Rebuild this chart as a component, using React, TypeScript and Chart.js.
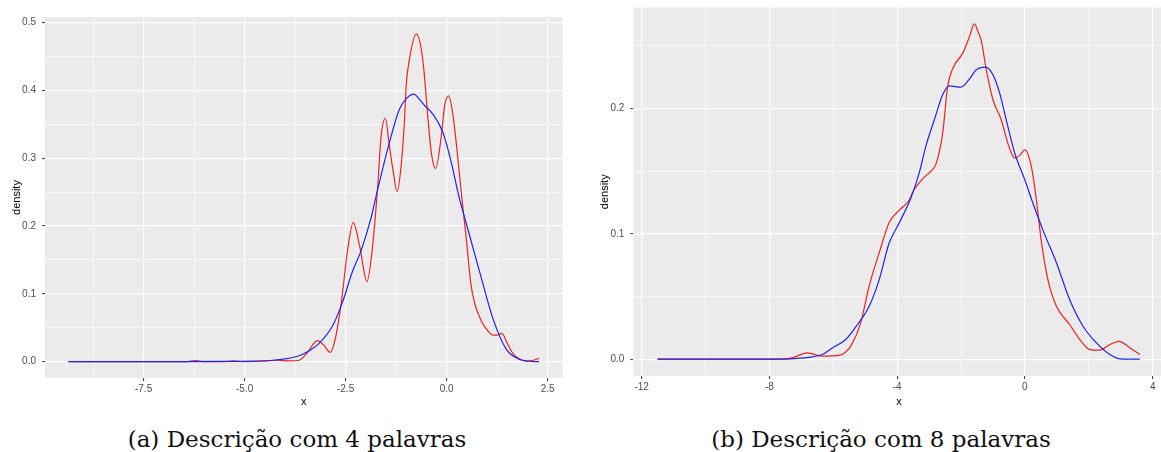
import React, { useEffect, useRef } from "react";
import { Chart, registerables } from "chart.js";
Chart.register(...registerables);

// ---------- Panel (a): Descrição com 4 palavras ----------
const aRedX = [-9.36, -7.0, -6.45, -6.22, -6.0, -5.5, -5.27, -5.05, -4.6, -4.2, -3.9, -3.65, -3.45, -3.2, -3.05, -2.88, -2.75, -2.6, -2.45, -2.31, -2.15, -1.97, -1.85, -1.71, -1.62, -1.515, -1.416, -1.33, -1.225, -1.125, -1.04, -1.0, -0.92, -0.75, -0.59, -0.46, -0.38, -0.273, -0.13, -0.05, 0.05, 0.16, 0.28, 0.38, 0.49, 0.6, 0.7, 0.86, 1.0, 1.15, 1.25, 1.37, 1.5, 1.65, 1.8, 1.98, 2.15, 2.29];
const aRedY = [0, 0, 0, 0.0015, 0, 0, 0.001, 0, 0.0005, 0.002, 0.001, 0.002, 0.013, 0.031, 0.025, 0.0135, 0.035, 0.09, 0.165, 0.205, 0.17, 0.118, 0.16, 0.254, 0.333, 0.359, 0.318, 0.284, 0.251, 0.289, 0.358, 0.407, 0.446, 0.483, 0.446, 0.358, 0.309, 0.285, 0.333, 0.377, 0.392, 0.363, 0.299, 0.24, 0.18, 0.115, 0.085, 0.06, 0.047, 0.039, 0.039, 0.0415, 0.027, 0.011, 0.004, 0.001, 0.002, 0.005];
const aBlueX = [-9.36, -6.5, -5.5, -4.8, -4.3, -4.0, -3.65, -3.4, -3.155, -2.82, -2.58, -2.33, -2.12, -1.87, -1.706, -1.416, -1.17, -0.98, -0.81, -0.66, -0.546, -0.34, -0.09, 0.116, 0.3, 0.49, 0.82, 1.15, 1.48, 1.81, 2.05, 2.29];
const aBlueY = [0, 0, 0.0002, 0.0008, 0.002, 0.004, 0.0086, 0.016, 0.027, 0.053, 0.087, 0.133, 0.163, 0.212, 0.254, 0.323, 0.372, 0.389, 0.3945, 0.386, 0.378, 0.365, 0.338, 0.294, 0.245, 0.203, 0.132, 0.063, 0.018, 0.003, 0.0005, 0];
const aXMajor = [-7.5, -5.0, -2.5, 0.0, 2.5];
const aXLabels = ["-7.5", "-5.0", "-2.5", "0.0", "2.5"];
const aXMinor = [-8.75, -6.25, -3.75, -1.25, 1.25];
const aYMajor = [0, 0.1, 0.2, 0.3, 0.4, 0.5];
const aYLabels = ["0.0", "0.1", "0.2", "0.3", "0.4", "0.5"];
const aYMinor = [0.05, 0.15, 0.25, 0.35, 0.45];

// ---------- Panel (b): Descrição com 8 palavras ----------
const bRedX = [-11.5, -8.5, -7.7, -7.3, -6.81, -6.34, -5.82, -5.6, -5.45, -5.14, -4.88, -4.56, -4.25, -3.93, -3.62, -3.52, -3.2, -2.94, -2.78, -2.575, -2.42, -2.26, -1.95, -1.74, -1.58, -1.45, -1.37, -1.21, -1.0, -0.74, -0.53, -0.32, -0.15, 0.0, 0.2, 0.36, 0.51, 0.72, 0.99, 1.4, 1.72, 2.03, 2.35, 2.66, 2.95, 3.29, 3.6];
const bRedY = [0, 0, 0, 0.001, 0.005, 0.0024, 0.003, 0.006, 0.0104, 0.029, 0.058, 0.085, 0.109, 0.119, 0.127, 0.133, 0.144, 0.15, 0.156, 0.18, 0.2175, 0.232, 0.244, 0.257, 0.2675, 0.26, 0.2547, 0.231, 0.207, 0.191, 0.172, 0.1605, 0.163, 0.167, 0.154, 0.127, 0.095, 0.0635, 0.042, 0.0277, 0.0157, 0.0077, 0.0072, 0.0117, 0.0143, 0.009, 0.0037];
const bBlueX = [-11.5, -8.5, -7.7, -7.2, -6.66, -6.34, -6.03, -5.61, -5.24, -4.88, -4.56, -4.25, -3.99, -3.57, -3.31, -3.1, -2.835, -2.575, -2.36, -2.0, -1.74, -1.53, -1.234, -1.0, -0.79, -0.584, -0.32, 0.0, 0.25, 0.565, 0.99, 1.4, 1.82, 2.24, 2.66, 2.97, 3.6];
const bBlueY = [0, 0, 0, 0.0005, 0.0019, 0.0037, 0.009, 0.0157, 0.0277, 0.042, 0.0635, 0.0927, 0.106, 0.1286, 0.1485, 0.17, 0.191, 0.211, 0.218, 0.217, 0.2234, 0.2308, 0.233, 0.2269, 0.2123, 0.191, 0.1645, 0.143, 0.1246, 0.103, 0.0768, 0.0476, 0.0263, 0.013, 0.0037, 0.0003, 0];
const bXMajor = [-12, -8, -4, 0, 4];
const bXLabels = ["-12", "-8", "-4", "0", "4"];
const bXMinor = [-10, -6, -2, 2];
const bYMajor = [0, 0.1, 0.2];
const bYLabels = ["0.0", "0.1", "0.2"];
const bYMinor = [0.05, 0.15, 0.25];

const captionA = "(a) Descrição com 4 palavras";
const captionB = "(b) Descrição com 8 palavras";

const SANS = "'Liberation Sans', Arial, sans-serif";

const panelBg = {
  id: "panelBg",
  beforeDraw(chart: any) {
    const { ctx, chartArea } = chart;
    if (!chartArea) return;
    ctx.save();
    ctx.fillStyle = "#EBEBEB";
    ctx.fillRect(chartArea.left, chartArea.top, chartArea.right - chartArea.left, chartArea.bottom - chartArea.top);
    ctx.restore();
  },
};

function isIn(arr: number[], v: number) {
  return arr.some((m) => Math.abs(m - v) < 1e-9);
}

type PanelCfg = {
  redX: number[]; redY: number[]; blueX: number[]; blueY: number[];
  xMajor: number[]; xLabels: string[]; xMinor: number[];
  yMajor: number[]; yLabels: string[]; yMinor: number[];
  xMin: number; xMax: number; yMin: number; yMax: number;
  W: number; H: number;
  padTop: number; padRight: number; yAxisW: number; xAxisH: number;
  yTitlePad: number; xTitlePad: number;
};

function makeConfig(p: PanelCfg): any {
  const xAll = [...p.xMajor, ...p.xMinor].sort((a, b) => a - b);
  const yAll = [...p.yMajor, ...p.yMinor].sort((a, b) => a - b);
  const gridFor = (major: number[]) => ({
    color: "#FFFFFF",
    lineWidth: (c: any) => (c.tick && isIn(major, c.tick.value) ? 1.2 : 0.6),
    tickColor: (c: any) => (c.tick && isIn(major, c.tick.value) ? "#333333" : "rgba(0,0,0,0)"),
    tickWidth: (c: any) => (c.tick && isIn(major, c.tick.value) ? 1 : 0),
    tickLength: 3,
    drawTicks: true,
  });
  return {
    type: "line",
    data: {
      datasets: [
        {
          label: "blue",
          data: p.blueX.map((x, i) => ({ x, y: p.blueY[i] })),
          borderColor: "#2222EE",
          borderWidth: 1.2,
          pointRadius: 0,
          cubicInterpolationMode: "monotone",
          fill: false,
        },
        {
          label: "red",
          data: p.redX.map((x, i) => ({ x, y: p.redY[i] })),
          borderColor: "#EE2222",
          borderWidth: 1.2,
          pointRadius: 0,
          cubicInterpolationMode: "monotone",
          fill: false,
        },
      ],
    },
    options: {
      animation: false,
      responsive: false,
      devicePixelRatio: 1,
      layout: { padding: { top: p.padTop, right: p.padRight, left: 0, bottom: 0 } },
      plugins: { legend: { display: false }, tooltip: { enabled: false } },
      scales: {
        x: {
          type: "linear",
          min: p.xMin,
          max: p.xMax,
          afterBuildTicks: (s: any) => {
            s.ticks = xAll.map((v) => ({ value: v }));
          },
          afterFit: (s: any) => {
            s.height = p.xAxisH;
            s.paddingLeft = 0; s.paddingRight = 0; s.paddingTop = 0; s.paddingBottom = 0;
          },
          grid: gridFor(p.xMajor),
          border: { display: false },
          ticks: {
            autoSkip: false,
            maxRotation: 0,
            padding: 2,
            color: "#4D4D4D",
            font: { family: SANS, size: 10 },
            callback: (v: number) => {
              const i = p.xMajor.findIndex((m) => Math.abs(m - v) < 1e-9);
              return i >= 0 ? p.xLabels[i] : "";
            },
          },
          title: {
            display: true,
            text: "x",
            color: "#000000",
            font: { family: SANS, size: 11 },
            padding: { top: 0, bottom: p.xTitlePad },
          },
        },
        y: {
          type: "linear",
          min: p.yMin,
          max: p.yMax,
          afterBuildTicks: (s: any) => {
            s.ticks = yAll.map((v) => ({ value: v }));
          },
          afterFit: (s: any) => {
            s.width = p.yAxisW;
            s.paddingLeft = 0; s.paddingRight = 0; s.paddingTop = 0; s.paddingBottom = 0;
          },
          grid: gridFor(p.yMajor),
          border: { display: false },
          ticks: {
            autoSkip: false,
            padding: 6,
            color: "#4D4D4D",
            font: { family: SANS, size: 10 },
            callback: (v: number) => {
              const i = p.yMajor.findIndex((m) => Math.abs(m - v) < 1e-9);
              return i >= 0 ? p.yLabels[i] : "";
            },
          },
          title: {
            display: true,
            text: "density",
            color: "#000000",
            font: { family: SANS, size: 11 },
            padding: { top: p.yTitlePad, bottom: 0 },
          },
        },
      },
    },
    plugins: [panelBg],
  };
}

function Panel({ cfg, left }: { cfg: PanelCfg; left: number }) {
  const ref = useRef<HTMLCanvasElement>(null);
  useEffect(() => {
    if (!ref.current) return;
    const chart = new Chart(ref.current, makeConfig(cfg));
    return () => chart.destroy();
  }, []);
  return (
    <canvas
      ref={ref}
      width={cfg.W}
      height={cfg.H}
      style={{ position: "absolute", left, top: 0, width: cfg.W, height: cfg.H }}
    />
  );
}

const cfgA: PanelCfg = {
  redX: aRedX, redY: aRedY, blueX: aBlueX, blueY: aBlueY,
  xMajor: aXMajor, xLabels: aXLabels, xMinor: aXMinor,
  yMajor: aYMajor, yLabels: aYLabels, yMinor: aYMinor,
  xMin: -9.94, xMax: 2.874, yMin: -0.0242, yMax: 0.5084,
  W: 575, H: 420, padTop: 17, padRight: 12.3, yAxisW: 45, xAxisH: 42,
  yTitlePad: 10.5, xTitlePad: 11.4,
};

const cfgB: PanelCfg = {
  redX: bRedX, redY: bRedY, blueX: bBlueX, blueY: bBlueY,
  xMajor: bXMajor, xLabels: bXLabels, xMinor: bXMinor,
  yMajor: bYMajor, yLabels: bYLabels, yMinor: bYMinor,
  xMin: -12.26, xMax: 4.38, yMin: -0.0134, yMax: 0.2806,
  W: 590, H: 420, padTop: 7.5, padRight: 15.2, yAxisW: 43.3, xAxisH: 44,
  yTitlePad: 8.5, xTitlePad: 11.9,
};

const captionStyle: React.CSSProperties = {
  position: "absolute",
  top: 428,
  width: 500,
  textAlign: "center",
  fontFamily: "'DejaVu Serif', serif",
  fontSize: 23,
  lineHeight: "23px",
  color: "#111111",
  whiteSpace: "nowrap",
};

export default function App() {
  return (
    <div
      style={{
        position: "fixed",
        left: 0,
        top: 0,
        width: 1161,
        height: 452,
        overflow: "hidden",
        background: "#FFFFFF",
      }}
    >
      <Panel cfg={cfgA} left={0} />
      <Panel cfg={cfgB} left={590} />
      <div style={{ ...captionStyle, left: 47 }}>{captionA}</div>
      <div style={{ ...captionStyle, left: 631 }}>{captionB}</div>
    </div>
  );
}
